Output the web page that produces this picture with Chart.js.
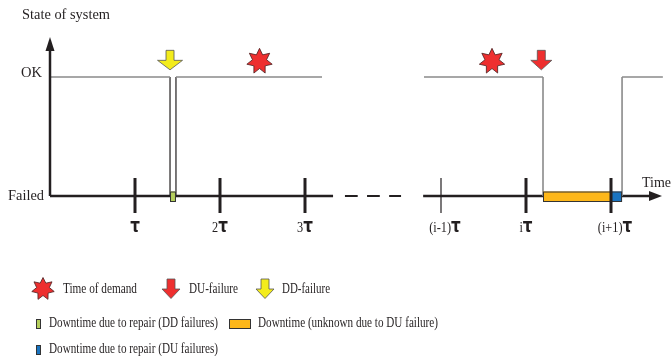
<!DOCTYPE html>
<html><head><meta charset="utf-8">
<script src="https://cdn.jsdelivr.net/npm/chart.js@4/dist/chart.umd.min.js"></script>
<style>html,body{margin:0;padding:0;background:#fff}canvas{display:block}</style>
</head><body>
<canvas id="c" width="672" height="356"></canvas>
<script>
// ---- data (x in units of the test interval tau, y: 1 = OK, 0 = Failed) ----
const tickValues   = [1, 2, 3, 4.6, 5.6, 6.6];
const tickPrefixes = ['', '2', '3', '(i-1)', 'i', '(i+1)'];
const tickSymbol   = 'τ';
const tickBold     = [true, true, true, false, true, true];
const okLevel = 1, failedLevel = 0;
const okSegments   = [[0, 1.412], [1.482, 3.2], [4.4, 5.8], [6.73, 7.21]];
const ddSteps      = [1.412, 1.482];
const duSteps      = [5.8, 6.73];
const demands      = [2.465, 5.2];
const ddFailures   = [1.412];
const duFailures   = [5.78];
const ddRepairs    = [[1.412, 1.482]];
const duUnknown    = [[5.8, 6.6]];
const duRepairs    = [[6.6, 6.73]];
const axisSolid    = [[0, 3.33], [4.39, 7.08]];
const axisDashes   = [[3.47, 3.62], [3.73, 3.88], [3.99, 4.13]];
const axisEnd      = 7.2;
const yAxisTop     = 1.31;
const markerLevel  = 1.14;
const legendItems1 = ['Time of demand', 'DU-failure', 'DD-failure'];
const legendItems2 = ['Downtime due to repair (DD failures)', 'Downtime (unknown due to DU failure)', 'Downtime due to repair (DU failures)'];
const axisTitle = 'State of system', okLabel = 'OK', failedLabel = 'Failed', timeLabel = 'Time';

const C = {text:'#231f20', gray:'#8a8a8a', axis:'#231f20', red:'#ee2f2f', yellow:'#f3ec1c',
  green:'#b5cf5c', orange:'#fdb71a', blue:'#1a74c0', outline:'#333'};

function segs(pairs, y){ const out=[]; pairs.forEach(p=>{out.push({x:p[0],y:y},{x:p[1],y:y},{x:p[1],y:null});}); return out; }
function verts(xs){ const out=[]; xs.forEach(v=>{out.push({x:v,y:okLevel},{x:v,y:failedLevel},{x:v,y:null});}); return out; }
const lineDs = (data,color,w)=>({data, showLine:true, spanGaps:false, pointRadius:0, borderColor:color, borderWidth:w, backgroundColor:color});

const SERIF = '"Liberation Serif", "Times New Roman", serif';
const FS = 15;
function fitText(ctx, text, x, y, w, size){
  ctx.save(); ctx.font = size+'px '+SERIF; ctx.textBaseline='middle'; ctx.textAlign='left'; ctx.fillStyle=C.text;
  const nat = ctx.measureText(text).width; ctx.translate(x,y); ctx.scale(w/nat,1); ctx.fillText(text,0,0); ctx.restore();
}
function star(ctx,cx,cy,R,r){
  ctx.beginPath();
  for(let i=0;i<14;i++){ const a=-Math.PI/2+i*Math.PI/7; const rr=i%2?r:R; const px=cx+rr*Math.cos(a), py=cy+rr*Math.sin(a); i?ctx.lineTo(px,py):ctx.moveTo(px,py);} 
  ctx.closePath(); ctx.fillStyle=C.red; ctx.fill(); ctx.lineWidth=0.8; ctx.strokeStyle='#4a2020'; ctx.stroke();
}
function downArrow(ctx,cx,top,fill,headW){
  const sw=8, shaftH=10, headH=9.5;
  ctx.beginPath(); ctx.moveTo(cx-sw/2,top); ctx.lineTo(cx+sw/2,top); ctx.lineTo(cx+sw/2,top+shaftH); ctx.lineTo(cx+headW/2,top+shaftH);
  ctx.lineTo(cx,top+shaftH+headH); ctx.lineTo(cx-headW/2,top+shaftH); ctx.lineTo(cx-sw/2,top+shaftH); ctx.closePath();
  ctx.fillStyle=fill; ctx.fill(); ctx.lineWidth=0.8; ctx.strokeStyle='#555'; ctx.stroke();
}
function box(ctx,x0,y0,x1,y1,fill){ ctx.fillStyle=fill; ctx.fillRect(x0,y0,x1-x0,y1-y0); ctx.lineWidth=1; ctx.strokeStyle=C.outline; ctx.strokeRect(x0+0.5,y0+0.5,x1-x0-1,y1-y0-1); }

const diagram = {
  id:'diagram',
  beforeDraw(chart){ const c=chart.ctx; c.save(); c.fillStyle='#fff'; c.fillRect(0,0,chart.width,chart.height); c.restore(); },
  afterDatasetsDraw(chart){
    const ctx=chart.ctx, X=chart.scales.x, Y=chart.scales.y;
    const px=v=>X.getPixelForValue(v), py=v=>Y.getPixelForValue(v);
    ctx.save();
    // y axis with arrow
    ctx.strokeStyle=C.axis; ctx.lineWidth=2.5; ctx.beginPath(); ctx.moveTo(px(0),py(failedLevel)); ctx.lineTo(px(0),py(yAxisTop)+10); ctx.stroke();
    ctx.fillStyle=C.axis; ctx.beginPath(); ctx.moveTo(px(0),py(yAxisTop)-3); ctx.lineTo(px(0)+4.5,py(yAxisTop)+11); ctx.lineTo(px(0)-4.5,py(yAxisTop)+11); ctx.closePath(); ctx.fill();
    // time arrow head
    ctx.beginPath(); ctx.moveTo(px(axisEnd),py(failedLevel)); ctx.lineTo(px(axisEnd)-13,py(failedLevel)-5); ctx.lineTo(px(axisEnd)-13,py(failedLevel)+5); ctx.closePath(); ctx.fill();
    // downtime boxes
    const bt=py(failedLevel)-4.5, bb=py(failedLevel)+6;
    ddRepairs.forEach(b=>box(ctx,px(b[0]),bt,px(b[1]),bb,C.green));
    duUnknown.forEach(b=>box(ctx,px(b[0]),bt,px(b[1]),bb,C.orange));
    duRepairs.forEach(b=>box(ctx,px(b[0]),bt,px(b[1]),bb,C.blue));
    // ticks
    const PF='15px '+SERIF, TF='bold 19px "DejaVu Sans", sans-serif';
    tickValues.forEach((v,i)=>{
      ctx.strokeStyle=C.axis; ctx.lineWidth=tickBold[i]?3:1.2; ctx.beginPath(); ctx.moveTo(px(v),py(failedLevel)-18); ctx.lineTo(px(v),py(failedLevel)+17); ctx.stroke();
      ctx.fillStyle=C.text; ctx.textBaseline='alphabetic';
      ctx.font=PF; const pre=tickPrefixes[i]; const pw=pre?ctx.measureText(pre).width*0.82:0;
      ctx.font=TF; const tw=ctx.measureText(tickSymbol).width*0.8;
      const left=px(v)-(pw+tw)/2+(pre.length>2?4:0); const base=py(failedLevel)+36;
      if(pre){ ctx.save(); ctx.font=PF; ctx.translate(left,base); ctx.scale(0.82,1); ctx.fillText(pre,0,0); ctx.restore(); }
      ctx.save(); ctx.font=TF; ctx.translate(left+pw,base); ctx.scale(0.8,1); ctx.fillText(tickSymbol,0,0); ctx.restore();
    });
    // events
    demands.forEach(v=>star(ctx,px(v),py(markerLevel)+1,13,7.2));
    ddFailures.forEach(v=>downArrow(ctx,px(v),py(markerLevel)-10,C.yellow,25));
    duFailures.forEach(v=>downArrow(ctx,px(v),py(markerLevel)-10,C.red,21));
    // axis texts
    fitText(ctx,axisTitle,22,15,88,FS);
    fitText(ctx,okLabel,21,py(okLevel)-4,21,FS);
    fitText(ctx,failedLabel,8,py(failedLevel),36,FS);
    fitText(ctx,timeLabel,642,183,29,FS);
    // legend
    star(ctx,43,289,11.5,6.5); fitText(ctx,legendItems1[0],63,289,74,FS);
    downArrow(ctx,171,279,C.red,18); fitText(ctx,legendItems1[1],189,289,49,FS);
    downArrow(ctx,265,279,C.yellow,18); fitText(ctx,legendItems1[2],282,289,48,FS);
    box(ctx,36,319,41,329,C.green); fitText(ctx,legendItems2[0],49,323,169,FS);
    box(ctx,229,319,251,329,C.orange); fitText(ctx,legendItems2[1],258,323,180,FS);
    box(ctx,36,345,41,355,C.blue); fitText(ctx,legendItems2[2],49,349,169,FS);
    ctx.restore();
  }
};

new Chart(document.getElementById('c'), {
  type:'scatter',
  data:{datasets:[
    lineDs(segs(okSegments,okLevel),C.gray,1.6),
    lineDs(verts(ddSteps),C.axis,1.2),
    lineDs(verts(duSteps),C.gray,1.6),
    lineDs(segs(axisSolid,failedLevel),C.axis,2.6),
    lineDs(segs(axisDashes,failedLevel),C.axis,1.8)
  ]},
  options:{
    responsive:false, animation:false, events:[],
    layout:{padding:0},
    plugins:{legend:{display:false}, tooltip:{enabled:false}},
    scales:{
      x:{type:'linear', display:false, min:-50/85, max:622/85},
      y:{type:'linear', display:false, min:-160/119, max:196/119}
    }
  },
  plugins:[diagram]
});
</script>
</body></html>
